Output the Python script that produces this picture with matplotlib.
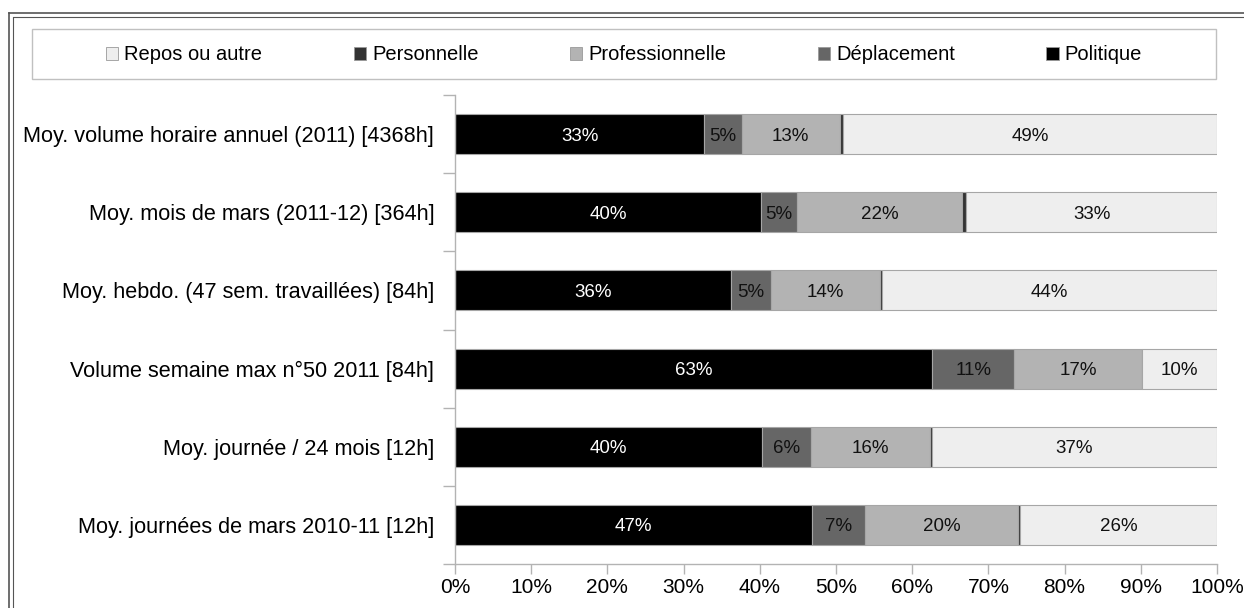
import numpy as np
import matplotlib
matplotlib.use("Agg")
import matplotlib.pyplot as plt
from matplotlib.patches import Rectangle, Patch
from matplotlib.lines import Line2D

plt.rcParams['font.family'] = ['Liberation Sans', 'DejaVu Sans']

# categories, top to bottom
categories = [
    "Moy. volume horaire annuel (2011) [4368h]",
    "Moy. mois de mars (2011-12) [364h]",
    "Moy. hebdo. (47 sem. travaillées) [84h]",
    "Volume semaine max n°50 2011 [84h]",
    "Moy. journée / 24 mois [12h]",
    "Moy. journées de mars 2010-11 [12h]",
]

# parts in %, stacked left to right
politique = [32.7, 40.2, 36.2, 62.6, 40.3, 46.9]
deplacement = [4.9, 4.7, 5.3, 10.8, 6.4, 6.9]
professionnelle = [12.9, 21.6, 14.3, 16.7, 15.6, 20.1]
personnelle = [0.4, 0.6, 0.3, 0.0, 0.3, 0.2]
repos = [49.1, 32.9, 43.9, 9.9, 37.4, 25.9]

series = [
    ("Politique", politique, "#000000", "white", True),
    ("Déplacement", deplacement, "#666666", "#111111", True),
    ("Professionnelle", professionnelle, "#b3b3b3", "#111111", True),
    ("Personnelle", personnelle, "#333333", "#111111", False),
    ("Repos ou autre", repos, "#eeeeee", "#111111", True),
]

W, H = 1244, 608
fig = plt.figure(figsize=(W / 100, H / 100), dpi=100)
ax = fig.add_axes([455 / W, 1 - 564 / H, (1217 - 455) / W, (564 - 95) / H])

y = np.arange(len(categories))
left = np.zeros(len(categories))
for name, vals, col, tcol, show in series:
    vals = np.array(vals)
    ax.barh(y, vals, left=left, height=0.51, color=col, edgecolor="#a6a6a6",
            linewidth=0.8, label=name)
    if show:
        for yi, l, v in zip(y, left, vals):
            if v > 0:
                ax.text(l + v / 2, yi, "%d%%" % round(v), ha="center",
                        va="center_baseline", color=tcol, fontsize=13.5)
    left += vals

ax.set_xlim(0, 100)
ax.set_ylim(len(categories) - 0.5, -0.5)
ax.set_xticks(np.arange(0, 101, 10))
ax.set_xticklabels(["%d%%" % v for v in range(0, 101, 10)])
ax.set_yticks(y)
ax.set_yticklabels(categories)
ax.set_yticks(np.arange(-0.5, len(categories), 1), minor=True)
ax.tick_params(axis="y", which="major", length=0, pad=15, labelsize=15.6)
ax.tick_params(axis="y", which="minor", length=8.6, width=1, color="#b3b3b3", direction="out")
ax.tick_params(axis="x", length=7.2, width=1, color="#b3b3b3", labelsize=15, pad=3)
for s in ["top", "right"]:
    ax.spines[s].set_visible(False)
for s in ["left", "bottom"]:
    ax.spines[s].set_color("#b3b3b3")
    ax.spines[s].set_linewidth(1)

# legend box
fig.add_artist(Rectangle((32 / W, 1 - 79 / H), (1216 - 32) / W, 50 / H,
                         transform=fig.transFigure, facecolor="white",
                         edgecolor="#c0c0c0", linewidth=1))
handles = [Patch(facecolor=c, edgecolor="#999999", linewidth=0.6, label=n)
           for n, v, c, t, s in series[::-1]]
fig.legend(handles=handles, loc="center", ncol=5, frameon=False,
           bbox_to_anchor=(624 / W, 1 - 55 / H), fontsize=14.5,
           handlelength=0.6, handleheight=0.6, handletextpad=0.3,
           columnspacing=4.55)

# outer double frame
for off, lw in [(9, 1.2), (12.5, 0.8)]:
    fig.add_artist(Line2D([off / W, off / W], [0, 1 - off / H * 1.45],
                          transform=fig.transFigure, color="#555555", linewidth=lw))
    fig.add_artist(Line2D([off / W, 1], [1 - (off + 4) / H, 1 - (off + 4) / H],
                          transform=fig.transFigure, color="#555555", linewidth=lw))

fig.savefig("out.png", dpi=100)
